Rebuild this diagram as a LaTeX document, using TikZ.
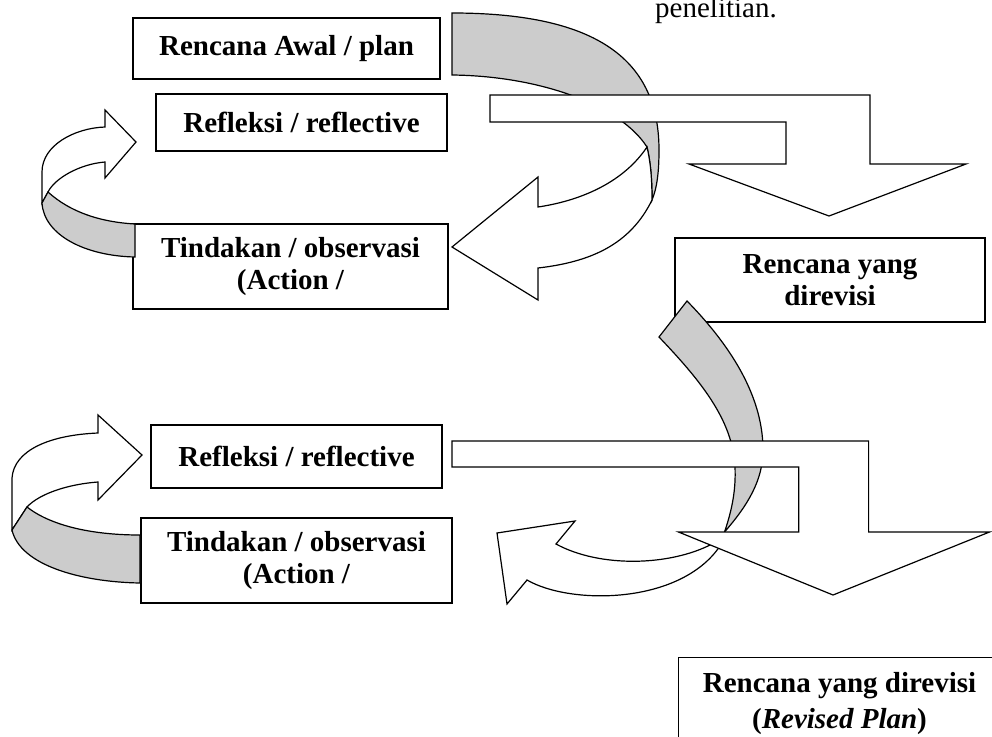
\documentclass[tikz,border=0pt]{standalone}
\usepackage{fontspec}
\setmainfont{Liberation Serif}
\definecolor{bandgray}{RGB}{204,204,204}
\tikzset{
  box/.style={draw, line width=1.3pt, fill=white, inner sep=0pt, align=center,
    font=\bfseries\fontsize{29}{32}\selectfont},
  band/.style={draw, line width=1.2pt},
  grayband/.style={band, fill=bandgray},
  whiteband/.style={band, fill=white},
}
\begin{document}
\begin{tikzpicture}[x=1pt,y=-1pt]
\useasboundingbox (0,0) rectangle (992,736);

% ---------- top cycle ----------
\node[box, minimum width=307, minimum height=61] (plan) at (286.5,48.5) {Rencana Awal / plan};
\node[box, minimum width=291, minimum height=57] (refA) at (301.5,122.5) {Refleksi / reflective};
\node[box, minimum width=315, minimum height=85] (actA) at (290.5,266.5) {Tindakan / observasi\\(Action /};

% small curved arrow (action -> reflection), top
\draw[whiteband] (42,203) -- (42,172) .. controls (42,145) and (75,128) .. (105,127)
  -- (105,110) -- (136,142) -- (105,178) -- (105,162)
  .. controls (80,164) and (55,178) .. (48,192) -- cycle;
\draw[grayband] (48,192) .. controls (70,212) and (100,222) .. (135,224) -- (135,257)
  .. controls (85,256) and (44,235) .. (42,203) -- cycle;

% big curved arrow from plan down to action
\draw[grayband] (452,13) .. controls (590,13) and (659,55) .. (659,150)
  .. controls (659,172) and (657,188) .. (652,200)
  .. controls (652,175) and (650,160) .. (647,147)
  .. controls (620,105) and (540,76) .. (452,75) -- cycle;
\draw[whiteband] (647,147) .. controls (625,180) and (585,200) .. (538,207)
  -- (538,177) -- (452,247) -- (538,300) -- (538,268)
  .. controls (590,262) and (630,245) .. (652,200)
  .. controls (652,175) and (650,160) .. (647,147) -- cycle;

% bent arrow top
\draw[whiteband] (490,95) -- (870,95) -- (870,164) -- (966,164) -- (829,216)
  -- (689,164) -- (786,164) -- (786,122) -- (490,122) -- cycle;

% ---------- revised plan ----------
\node[box, minimum width=310, minimum height=84] (revA) at (830,280) {Rencana yang\\direvisi};

% gray sliver from revised plan downwards
\draw[grayband] (687,301) -- (659,337) .. controls (700,380) and (733,420) .. (735,467)
  .. controls (736,490) and (732,510) .. (724.5,532)
  .. controls (748,505) and (763,480) .. (763,450)
  .. controls (763,400) and (735,350) .. (687,301) -- cycle;
% white curved arrow to the left
\draw[whiteband] (575,521) -- (556,544) .. controls (600,568) and (670,566) .. (712,544)
  -- (735,536) -- (720,546) .. controls (680,605) and (570,605) .. (527,580)
  -- (507,604) -- (497,533) -- cycle;

% bent arrow bottom
\draw[whiteband] (452,441) -- (868.6,441) -- (868.6,532) -- (989.5,532) -- (833,595)
  -- (678.5,532) -- (798.7,532) -- (798.7,467) -- (452,467) -- cycle;

% ---------- bottom cycle ----------
\node[box, minimum width=291, minimum height=63] (refB) at (296.5,456.5) {Refleksi / reflective};
\node[box, minimum width=311, minimum height=85] (actB) at (296.5,560.5) {Tindakan / observasi\\(Action /};

\draw[whiteband] (12,530) -- (12,478) .. controls (14,450) and (50,435) .. (98,433)
  -- (98,415) -- (142,455) -- (98,500) -- (98,482)
  .. controls (70,484) and (40,493) .. (27,507) -- cycle;
\draw[grayband] (27,507) .. controls (50,525) and (90,535) .. (140,535) -- (140,583)
  .. controls (80,582) and (20,565) .. (12,530) -- cycle;

% final revised plan box
\node[box, anchor=north west, minimum width=330, minimum height=110] (revB) at (678,657) {};
\node[anchor=north, inner sep=0pt, align=center, font=\bfseries\fontsize{29}{36}\selectfont]
  (revBt) at (839.5,672) {Rencana yang direvisi\\(\textit{Revised Plan})};

% caption fragment at top
\node[anchor=base west, inner sep=0pt, font=\fontsize{29}{30}\selectfont] (pen) at (655,17) {penelitian.};
\end{tikzpicture}
\end{document}
